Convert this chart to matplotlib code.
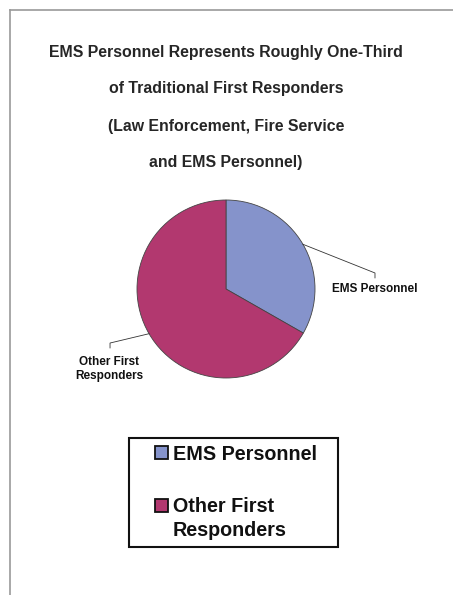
import matplotlib.pyplot as plt
from matplotlib.lines import Line2D
from matplotlib.patches import Rectangle
import numpy as np

plt.rcParams['font.family'] = ['Liberation Sans', 'DejaVu Sans']

labels = ["EMS Personnel", "Other First\nResponders"]
pie_labels = ["EMS Personnel", "Other First\nResponders"]
values = [33.25, 66.75]
colors = ["#8593CB", "#B2386F"]
title_lines = [
    "EMS Personnel Represents Roughly One-Third",
    "of Traditional First Responders",
    "(Law Enforcement, Fire Service",
    "and EMS Personnel)",
]

W, H = 453, 595
fig = plt.figure(figsize=(W / 100, H / 100), dpi=100)

def fx(px):
    return px / W

def fy(py):
    return 1 - py / H

# grey frame (top and left only)
fig.add_artist(Line2D([fx(10), 1], [fy(10), fy(10)], color="#9a9a9a", lw=1.2))
fig.add_artist(Line2D([fx(10), fx(10)], [0, fy(10)], color="#9a9a9a", lw=1.2))

# title
for line, y in zip(title_lines, [53, 89, 126, 163]):
    fig.text(fx(226), fy(y), line, ha="center", va="center",
             fontsize=11.4, fontweight="bold", color="#262626")

# pie
cx, cy, r = 226, 289, 89
ax = fig.add_axes([fx(cx - r), fy(cy + r), 2 * r / W, 2 * r / H])
wedges, _ = ax.pie(values, colors=colors, startangle=90, counterclock=False,
                   wedgeprops=dict(edgecolor="#444444", linewidth=0.6))
ax.set_xlim(-1, 1)
ax.set_ylim(-1, 1)
ax.set_aspect("equal")

# leader lines + labels
elbows = [(1.674, 0.18), (-1.303, -0.607)]
drops = [0.055, 0.055]
text_pos = [(1.674, 0.0), (-1.315, -0.90)]
for w, lab, (ex, ey), d, (tx, ty) in zip(wedges, pie_labels, elbows, drops, text_pos):
    mid = np.deg2rad((w.theta1 + w.theta2) / 2)
    sx, sy = np.cos(mid), np.sin(mid)
    ax.plot([sx, ex, ex], [sy, ey, ey - d], color="#333333", lw=0.6, clip_on=False)
    ax.text(tx, ty, lab, ha="center", va="center", fontsize=8.5,
            fontweight="bold", color="#111111", linespacing=1.15, clip_on=False)

# legend box, drawn by hand to match the spacing
fig.add_artist(Rectangle((fx(129), fy(547)), fx(338) - fx(129), fy(438) - fy(547),
                         transform=fig.transFigure, facecolor="white",
                         edgecolor="#111111", lw=1.5))
entry_y = [452, 505]
for c, lab, y in zip(colors, labels, entry_y):
    fig.add_artist(Rectangle((fx(155), fy(y + 6.5)), 13 / W, 13 / H,
                             transform=fig.transFigure, facecolor=c,
                             edgecolor="#111111", lw=1.3))
    fig.text(fx(173), fy(y - 7.5), lab, ha="left", va="top", fontsize=14.2,
             fontweight="bold", color="#111111", linespacing=1.27,
             transform=fig.transFigure)

fig.savefig("out.png", dpi=100)
